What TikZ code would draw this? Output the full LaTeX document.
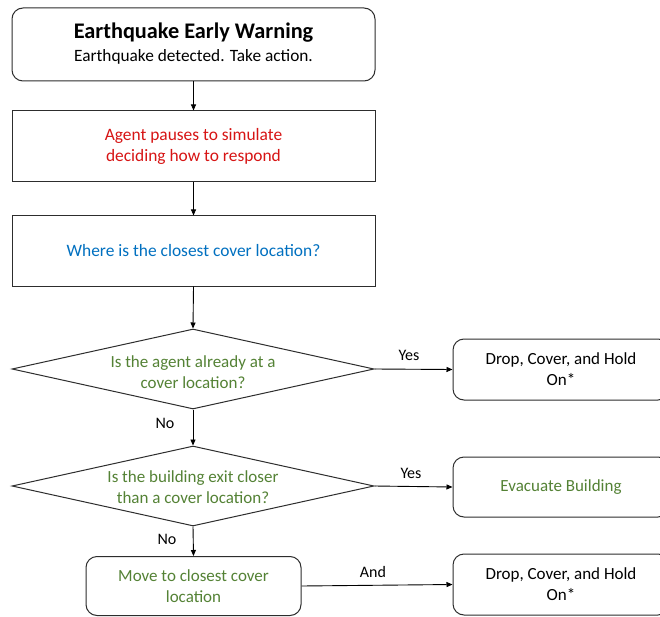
\documentclass[tikz,border=0pt]{standalone}
\usepackage{fontspec}
\setmainfont{Carlito}
\usetikzlibrary{shapes.geometric,arrows.meta}
\definecolor{lnc}{RGB}{45,45,45}
\definecolor{agred}{RGB}{215,20,20}
\definecolor{agblue}{RGB}{0,112,192}
\definecolor{aggreen}{RGB}{84,130,53}
\tikzset{
  rbox/.style={draw=lnc, line width=1pt, rounded corners=11pt, inner sep=0pt, align=center},
  sbox/.style={draw=lnc, line width=1pt, inner sep=0pt, align=center},
  dbox/.style={draw=lnc, line width=1pt, diamond, inner sep=0pt, minimum width=362pt, minimum height=80pt},
  txt/.style={align=center, inner sep=0pt, font=\fontsize{17}{21}\selectfont},
  lbl/.style={inner sep=0pt, font=\fontsize{16}{18}\selectfont},
  arr/.style={draw=black, line width=0.9pt, -{Triangle[length=6pt,width=5pt]}}
}
\begin{document}
\begin{tikzpicture}[x=1pt,y=-1pt]
\useasboundingbox[fill=white] (0,0) rectangle (660,617);
\node[rbox, minimum width=363pt, minimum height=73pt] (top) at (193.5,44.5) {};
\node[txt, font=\fontsize{22.3}{24}\selectfont\bfseries] (title) at (193.5,32.5) {Earthquake Early Warning};
\node[txt, font=\fontsize{17.3}{20}\selectfont] (sub) at (193.5,57) {Earthquake detected. Take action.};
\node[sbox, minimum width=363pt, minimum height=71pt, text=agred, font=\fontsize{17.4}{21}\selectfont] (b2) at (193.5,146.5) {Agent pauses to simulate\\deciding how to respond};
\node[sbox, minimum width=363pt, minimum height=70pt, text=agblue, font=\fontsize{17.4}{21}\selectfont] (b3) at (193.5,251) {Where is the closest cover location?};
\node[dbox] (d1) at (193,369) {};
\node[txt, text=aggreen] (d1t) at (193,372) {Is the agent already at a\\cover location?};
\node[dbox] (d2) at (193,486) {};
\node[txt, text=aggreen] (d2t) at (193,487) {Is the building exit closer\\than a cover location?};
\node[rbox, minimum width=216pt, minimum height=61pt, font=\fontsize{17}{21}\selectfont] (r1) at (561,369.5) {Drop, Cover, and Hold\\On*};
\node[rbox, minimum width=216pt, minimum height=60pt, text=aggreen, font=\fontsize{17}{21}\selectfont] (r2) at (561,487) {Evacuate Building};
\node[rbox, minimum width=216pt, minimum height=61pt, font=\fontsize{17}{21}\selectfont] (r3) at (561,584.5) {Drop, Cover, and Hold\\On*};
\node[rbox, minimum width=215pt, minimum height=59pt, text=aggreen, font=\fontsize{17}{21}\selectfont] (mv) at (193.5,586) {Move to closest cover\\location};
\draw[arr] (top.south) -- (b2.north);
\draw[arr] (b2.south) -- (b3.north);
\draw[arr] (b3.south) -- (d1.north);
\draw[arr] (d1.south) -- (d2.north);
\draw[arr] (d2.south) -- (mv.north);
\draw[arr] (d1.east) -- (r1.west);
\draw[arr] (d2.east) -- (r2.west);
\draw[arr] (mv.east) -- (r3.west);
\node[lbl] (no1) at (165,423) {No};
\node[lbl] (no2) at (167,539) {No};
\node[lbl] (yes1) at (409,355) {Yes};
\node[lbl] (yes2) at (411,473) {Yes};
\node[lbl] (and) at (373,572) {And};
\end{tikzpicture}
\end{document}
